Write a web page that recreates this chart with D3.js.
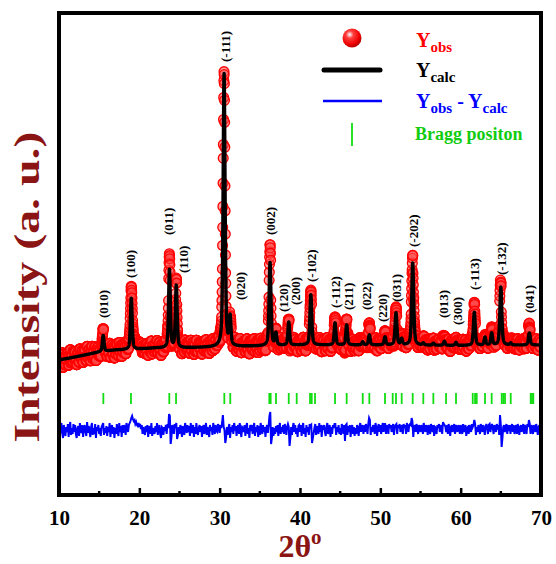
<!DOCTYPE html>
<html>
<head>
<meta charset="utf-8">
<script src="https://cdn.jsdelivr.net/npm/d3@7"></script>
<style>
  body { margin: 0; background: #fff; }
  svg { display: block; }
  text { font-family: "Liberation Serif", "Times New Roman", serif; font-weight: bold; }
</style>
</head>
<body>
<svg id="chart" width="556" height="564"></svg>
<script>
// ---- data -------------------------------------------------------------
const xTicks = [10, 20, 30, 40, 50, 60, 70];

// refined background (2θ knots and level, a.u.)
const bgTheta = [10, 12, 15, 17, 20, 22, 25, 30, 35, 40, 50, 60, 70];
const bgLevel = [23, 26, 31, 33, 34, 35, 35, 36, 37, 38, 38, 37.5, 38];

// fitted reflections: position (2θ), net height (a.u.), FWHM (deg)
const peakCenter = [15.50, 19.00, 23.75, 24.60, 30.55, 31.30, 36.27, 37.00, 38.60, 41.35,
                    44.36, 45.81, 47.81, 48.63, 50.58, 51.95, 52.66, 54.03, 55.35, 56.60,
                    57.97, 59.42, 61.70, 63.03, 63.86, 65.00, 66.23, 68.55];
const peakHeight = [16, 51, 78, 62, 273, 28, 83, 12, 23, 50,
                    22, 20, 3, 10, 8, 32, 6, 82, 2, 2,
                    4, 3, 33, 8, 12, 58, 2, 12];
const peakWidth  = [0.25, 0.25, 0.25, 0.25, 0.28, 0.25, 0.27, 0.25, 0.25, 0.27,
                    0.25, 0.25, 0.25, 0.25, 0.25, 0.27, 0.25, 0.28, 0.25, 0.25,
                    0.25, 0.25, 0.27, 0.25, 0.25, 0.28, 0.25, 0.27];

// observed - calculated, sampled every 0.1° from 10° to 70° (a.u.)
const diffStart = 10, diffStep = 0.1;
const diffValues = [
  4,-6,2,7,-3,-8,5,-1,-6,3,      -2,6,-7,3,8,-5,2,-4,6,-2,
  5,-4,-8,2,4,-6,7,0,-3,5,       -7,2,5,-2,-6,8,-3,4,-1,-7,
  3,7,-5,2,-4,6,-8,3,-1,5,       -4,2,-6,3,5,7,-5,2,-3,4,
  -6,3,-2,7,-7,2,5,-4,3,-8,      2,-4,6,-1,-6,7,-2,4,-7,5,
  -3,5,2,-5,7,3,-2,5,7,9,        12,14,11,9,10,6,8,5,4,7,
  3,6,1,5,-4,3,-1,-5,4,-2,       5,-7,2,4,-4,7,-6,2,-1,-4,
  4,-2,7,-5,2,5,-4,-8,3,2,       -5,3,-1,5,-4,6,2,16,14,-14,
  -7,5,3,-4,6,2,7,-9,-5,3,       -4,5,2,-7,4,-1,-5,7,2,-3,
  5,-2,4,-6,7,-3,2,5,-7,3,       -4,7,-1,-5,2,5,-2,4,-7,2,
  5,-4,2,7,-5,3,-2,-7,5,-1,      3,-5,7,2,-4,5,-1,-2,6,4,
  -3,5,2,7,15,3,0,-13,-8,3,      -5,2,6,-8,3,-2,5,-4,7,2,
  4,-6,2,5,-4,7,-1,-7,3,2,       -2,5,-6,3,7,-4,2,-8,5,-1,
  5,-4,2,7,-6,3,-2,5,-7,4,       -5,7,2,-4,5,-2,3,-7,2,5,
  -3,5,14,18,-14,-8,3,-6,2,-4,   4,-2,5,-6,2,7,-4,3,-2,5,
  -4,6,2,-5,3,6,3,-16,-8,3,      -5,3,7,-2,5,-4,2,-7,4,5,
  -2,5,-6,3,7,-4,2,-7,5,-2,      3,-5,6,4,5,-13,-8,-3,2,6,
  -5,4,2,-4,7,-2,5,-7,3,2,       5,-2,-6,3,7,-4,2,5,-7,3,
  -4,5,2,6,6,-5,3,-2,5,-4,       2,-5,6,3,-4,5,-11,5,6,-5,
  4,-2,5,-7,2,5,-4,3,-6,2,       -4,5,2,-6,3,7,-2,5,3,-4,
  5,-2,6,3,-4,6,12,10,-5,3,      -2,5,3,-4,7,2,-6,3,6,-2,
  5,-4,2,7,-2,6,6,-4,5,3,        -4,6,2,5,-2,3,6,-5,3,5,
  6,-4,5,2,6,-2,3,5,-4,6,        2,5,-4,7,3,-2,5,6,5,12,
  8,-7,3,5,-2,6,2,-4,5,3,        -2,5,3,-4,7,2,-2,5,3,-5,
  5,2,-4,6,3,-2,5,-6,3,2,        -4,5,2,6,-2,3,5,-4,8,6,
  5,3,-2,5,-4,6,2,-6,3,5,        -2,3,6,-4,5,2,-2,5,3,-4,
  5,2,-4,6,-2,3,5,-6,2,3,        -4,5,2,-2,6,3,5,10,6,-5,
  3,-2,5,2,-4,6,3,-2,5,2,        -5,3,6,2,-4,5,6,-2,3,6,
  2,-4,5,3,-2,6,3,5,-5,15,       5,-17,-8,3,5,-2,3,6,-4,5,
  2,5,-4,3,6,-2,5,-4,2,5,        -4,6,2,-5,3,5,-2,3,6,-4,
  5,2,-4,6,3,10,6,-4,5,2,        -4,5,3,-2,6,2,-5,3,5,-2,
  3
];
const diffOffset = -47;

// Bragg reflection positions (2θ)
const braggTheta = [15.52, 18.96, 23.73, 24.57, 30.58, 31.32, 36.18, 36.35, 37.01, 38.60,
                    39.59, 41.25, 41.46, 41.87, 44.36, 45.81, 47.81, 48.63, 50.58, 51.54,
                    51.95, 52.66, 54.03, 55.35, 56.60, 58.18, 59.42, 61.50, 61.79, 62.00,
                    63.03, 63.86, 65.11, 65.31, 65.52, 66.23, 68.72, 68.88, 69.04];

// Miller indices of the labelled reflections
const hklText  = ["(010)", "(100)", "(011)", "(110)", "(-111)", "(020)", "(002)", "(120)", "(200)", "(-102)",
                  "(-112)", "(211)", "(022)", "(220)", "(031)", "(-202)", "(013)", "(300)", "(-113)", "(-132)", "(041)"];
const hklTheta = [15.48, 18.84, 23.57, 25.44, 30.66, 32.53, 36.27, 37.89, 39.38, 41.37,
                  44.36, 45.98, 48.22, 50.21, 51.95, 54.07, 57.80, 59.54, 61.66, 65.02, 68.51];

// ---- layout -----------------------------------------------------------
const frame = { left: 59, right: 541, top: 13, bottom: 495 };
// vertical start (px) of each rotated hkl label
const hklLabelBase = [318, 278, 235, 273, 62, 300, 235, 312, 305, 282,
                      308, 310, 310, 322, 302, 247, 318, 325, 290, 275, 313];
const braggTop = 393, braggBottom = 404;

const svg = d3.select("#chart");

const x = d3.scaleLinear().domain([10, 70]).range([frame.left, frame.right]);
const y = d3.scaleLinear().domain([-112, 370]).range([frame.bottom, frame.top]);
const background = d3.scaleLinear().domain(bgTheta).range(bgLevel);

// pseudo-Voigt profile sum on top of the background
function calcAt(t) {
  let s = background(t);
  for (let i = 0; i < peakCenter.length; i++) {
    const u = (t - peakCenter[i]) / peakWidth[i];
    const lor = 1 / (1 + 4 * u * u);
    const gau = Math.exp(-4 * Math.LN2 * u * u);
    s += peakHeight[i] * (0.5 * lor + 0.5 * gau);
  }
  return s;
}

const clipId = "plot-clip";
const defs = svg.append("defs");
defs.append("clipPath").attr("id", clipId)
  .append("rect")
  .attr("x", frame.left).attr("y", frame.top)
  .attr("width", frame.right - frame.left).attr("height", frame.bottom - frame.top);

const plot = svg.append("g").attr("clip-path", `url(#${clipId})`);

// observed points (0.02° steps), residual taken from the 0.1° difference table
const obs = [];
for (let k = 0; k <= 3000; k++) {
  const t = 10 + k / 50;
  const d = diffValues[Math.round(k / 5)];
  obs.push([t, calcAt(t) + d]);
}
plot.append("g")
  .selectAll("circle")
  .data(obs)
  .join("circle")
  .attr("cx", d => x(d[0]))
  .attr("cy", d => y(d[1]))
  .attr("r", 4.9)
  .attr("fill", "rgba(255,70,70,0.5)")
  .attr("stroke", "#ff0000")
  .attr("stroke-width", 1.3);

// calculated profile
const calc = d3.range(0, 6001).map(k => { const t = 10 + k / 100; return [t, calcAt(t)]; });
plot.append("path")
  .datum(calc)
  .attr("fill", "none")
  .attr("stroke", "#000")
  .attr("stroke-width", 3.4)
  .attr("stroke-linejoin", "round")
  .attr("d", d3.line().x(d => x(d[0])).y(d => y(d[1])));

// Bragg positions
plot.append("g")
  .selectAll("line")
  .data(braggTheta)
  .join("line")
  .attr("x1", d => x(d)).attr("x2", d => x(d))
  .attr("y1", braggTop).attr("y2", braggBottom)
  .attr("stroke", "#11dd11")
  .attr("stroke-width", 1.8);

// difference curve
const diff = diffValues.map((v, i) => [diffStart + i * diffStep, diffOffset + v]);
plot.append("path")
  .datum(diff)
  .attr("fill", "none")
  .attr("stroke", "#0000ff")
  .attr("stroke-width", 2)
  .attr("d", d3.line().x(d => x(d[0])).y(d => y(d[1])));

// hkl labels
svg.append("g")
  .selectAll("text")
  .data(hklText)
  .join("text")
  .attr("transform", (d, i) => `translate(${x(hklTheta[i])},${hklLabelBase[i]}) rotate(-90)`)
  .attr("dy", "0.35em")
  .attr("font-size", 13)
  .attr("fill", "#000")
  .text(d => d);

// frame
svg.append("rect")
  .attr("x", frame.left).attr("y", frame.top)
  .attr("width", frame.right - frame.left).attr("height", frame.bottom - frame.top)
  .attr("fill", "none")
  .attr("stroke", "#000")
  .attr("stroke-width", 4);

// bottom axis: major ticks with labels, minor ticks between
const axisG = svg.append("g").attr("transform", `translate(0,${frame.bottom})`);
axisG.call(d3.axisBottom(x).tickValues(xTicks).tickSizeInner(-7).tickSizeOuter(0).tickPadding(15).tickFormat(d3.format("d")));
axisG.select(".domain").remove();
axisG.selectAll(".tick line").attr("stroke", "#000").attr("stroke-width", 2.5);
axisG.selectAll(".tick text")
  .attr("font-size", 21)
  .attr("font-family", "'Liberation Serif', 'Times New Roman', serif")
  .attr("font-weight", "bold")
  .attr("fill", "#000");
axisG.selectAll(".minor")
  .data(d3.range(15, 70, 10))
  .join("line")
  .attr("class", "minor")
  .attr("x1", d => x(d)).attr("x2", d => x(d))
  .attr("y1", 0).attr("y2", -4)
  .attr("stroke", "#000").attr("stroke-width", 2.5);

// axis titles
svg.append("text")
  .attr("transform", "translate(39,287) rotate(-90)")
  .attr("text-anchor", "middle")
  .attr("font-size", 36)
  .attr("textLength", 311)
  .attr("lengthAdjust", "spacingAndGlyphs")
  .attr("fill", "#8b1414")
  .text("Intensity (a. u.)");

const xt = svg.append("text")
  .attr("x", 300).attr("y", 557)
  .attr("text-anchor", "middle")
  .attr("font-size", 32)
  .attr("fill", "#8b1414");
xt.append("tspan").text("2θ");
xt.append("tspan").attr("font-size", 21).attr("dy", -13).text("o");

// legend
const grad = defs.append("radialGradient")
  .attr("id", "ball").attr("cx", "38%").attr("cy", "32%").attr("r", "65%");
grad.append("stop").attr("offset", "0%").attr("stop-color", "#ffffff");
grad.append("stop").attr("offset", "30%").attr("stop-color", "#ff4040");
grad.append("stop").attr("offset", "80%").attr("stop-color", "#ee0000");
grad.append("stop").attr("offset", "100%").attr("stop-color", "#c00000");

const lg = svg.append("g");
lg.append("circle").attr("cx", 352).attr("cy", 38).attr("r", 9.5).attr("fill", "url(#ball)");
lg.append("line").attr("x1", 324).attr("x2", 380).attr("y1", 70).attr("y2", 70)
  .attr("stroke", "#000").attr("stroke-width", 5).attr("stroke-linecap", "round");
lg.append("line").attr("x1", 323).attr("x2", 382).attr("y1", 101).attr("y2", 101)
  .attr("stroke", "#0000ff").attr("stroke-width", 2.5);
lg.append("line").attr("x1", 352).attr("x2", 352).attr("y1", 123).attr("y2", 146)
  .attr("stroke", "#11dd11").attr("stroke-width", 1.8);

function yLabel(g, yb, color, parts) {
  const t = g.append("text").attr("x", 416).attr("y", yb).attr("fill", color);
  parts.forEach(p => {
    if (p.sub) t.append("tspan").attr("font-size", 15).attr("dy", 5).text(p.s);
    else t.append("tspan").attr("font-size", 20).attr("dy", p.back ? -5 : 0).text(p.s);
  });
}
yLabel(lg, 47, "#ff0000", [{ s: "Y" }, { s: "obs", sub: true }]);
yLabel(lg, 77, "#000000", [{ s: "Y" }, { s: "calc", sub: true }]);
yLabel(lg, 108, "#0000ff", [{ s: "Y" }, { s: "obs", sub: true }, { s: " - Y", back: true }, { s: "calc", sub: true }]);
lg.append("text").attr("x", 415).attr("y", 140).attr("font-size", 18).attr("fill", "#11cc11").text("Bragg positon");
</script>
</body>
</html>
